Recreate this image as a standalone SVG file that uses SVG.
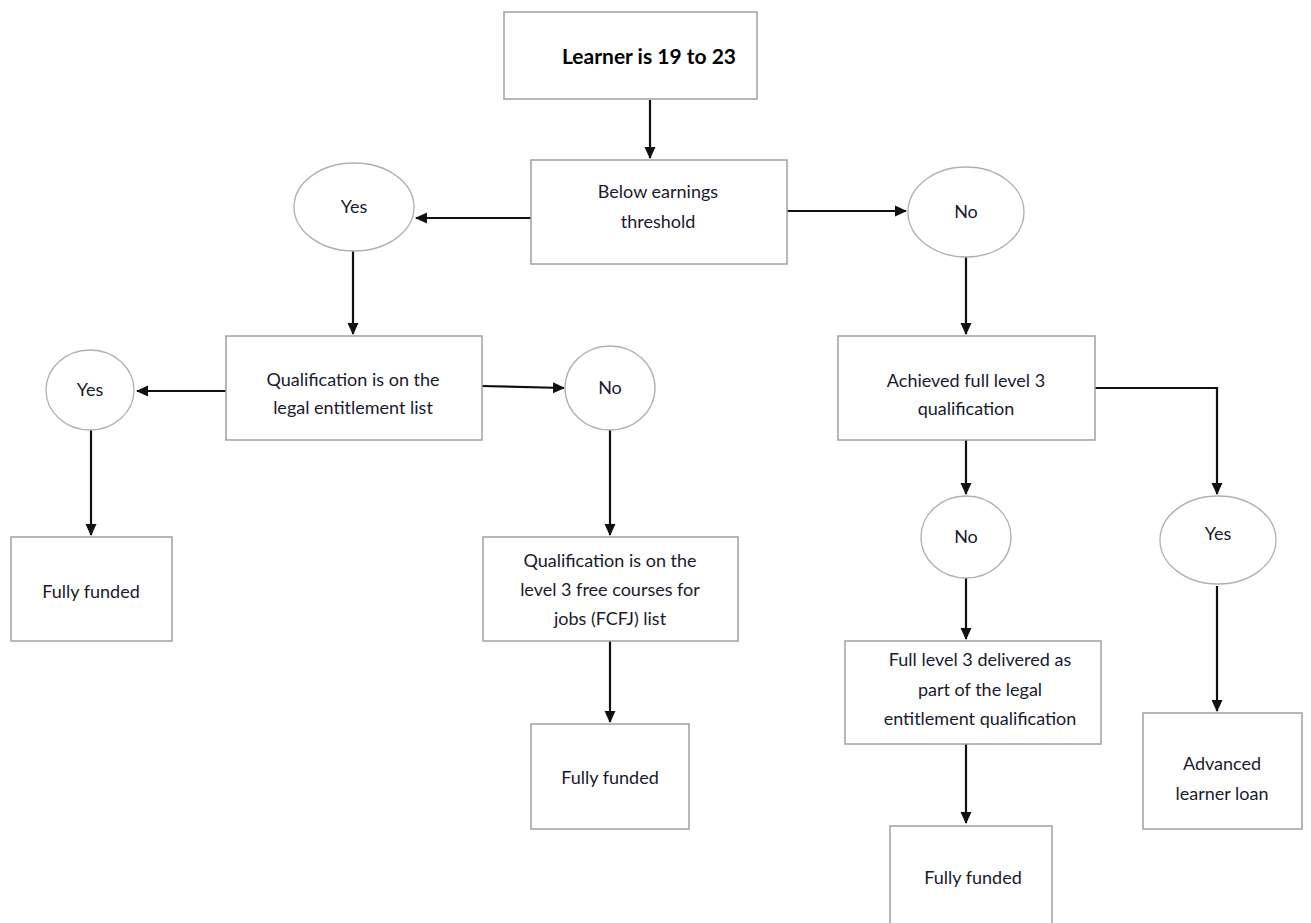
<svg xmlns="http://www.w3.org/2000/svg" width="1311" height="923" viewBox="0 0 1311 923">
<style>
.box{fill:#fff;stroke:#a0a0a0;stroke-width:1.5}
.ell{fill:#fff;stroke:#b0b0b0;stroke-width:1.3}
.t{font-family:Lato,"Open Sans","Liberation Sans",sans-serif;font-size:18px;fill:#1a1a2e;text-anchor:middle}
.b{font-weight:bold;font-size:21px;fill:#000}
.c{fill:none;stroke:#111;stroke-width:2.2;marker-end:url(#ah)}
</style>
<defs>
<marker id="ah" markerWidth="12" markerHeight="12" refX="11" refY="6" orient="auto" markerUnits="userSpaceOnUse">
<path d="M0,0.5 L12,6 L0,11.5 Z" fill="#111"/>
</marker>
</defs>
<rect width="1311" height="923" fill="#fff"/>
<g id="connectors">
<path class="c" d="M650,100 V158"/>
<path class="c" d="M531,218 H416"/>
<path class="c" d="M787,211 H906"/>
<path class="c" d="M353,250 V334"/>
<path class="c" d="M966,257 V334"/>
<path class="c" d="M226,391 H137"/>
<path class="c" d="M482,386 L564,388"/>
<path class="c" d="M91,430 V535"/>
<path class="c" d="M610,430 V535"/>
<path class="c" d="M610,641 V722"/>
<path class="c" d="M1095,388 H1217 V494"/>
<path class="c" d="M966,440 V494"/>
<path class="c" d="M966,578 V639"/>
<path class="c" d="M966,744 V823"/>
<path class="c" d="M1217,586 V711"/>
</g>
<g id="n-learner"><rect class="box" x="504" y="12" width="253" height="87"/><text class="t b" x="649" y="64">Learner is 19 to 23</text></g>
<g id="n-below"><rect class="box" x="531" y="160" width="256" height="104"/><text class="t" x="658" y="198">Below earnings</text><text class="t" x="658" y="228">threshold</text></g>
<g id="n-yes1"><ellipse class="ell" cx="354" cy="207" rx="60" ry="44"/><text class="t" x="354" y="213">Yes</text></g>
<g id="n-no1"><ellipse class="ell" cx="966" cy="212" rx="58" ry="45"/><text class="t" x="966" y="218">No</text></g>
<g id="n-qual"><rect class="box" x="226" y="336" width="256" height="104"/><text class="t" x="353" y="386">Qualification is on the</text><text class="t" x="353" y="414">legal entitlement list</text></g>
<g id="n-yes2"><ellipse class="ell" cx="90" cy="390" rx="44" ry="40"/><text class="t" x="90" y="396">Yes</text></g>
<g id="n-no2"><ellipse class="ell" cx="610" cy="388" rx="45" ry="42"/><text class="t" x="610" y="394">No</text></g>
<g id="n-ff1"><rect class="box" x="11" y="537" width="161" height="104"/><text class="t" x="91" y="598">Fully funded</text></g>
<g id="n-fcfj"><rect class="box" x="483" y="537" width="255" height="104"/><text class="t" x="610" y="567">Qualification is on the</text><text class="t" x="610" y="596">level 3 free courses for</text><text class="t" x="610" y="625">jobs (FCFJ) list</text></g>
<g id="n-ff2"><rect class="box" x="531" y="724" width="158" height="105"/><text class="t" x="610" y="784">Fully funded</text></g>
<g id="n-ach"><rect class="box" x="838" y="336" width="257" height="104"/><text class="t" x="966" y="387">Achieved full level 3</text><text class="t" x="966" y="415">qualification</text></g>
<g id="n-no3"><ellipse class="ell" cx="966" cy="537" rx="45" ry="41"/><text class="t" x="966" y="543">No</text></g>
<g id="n-yes3"><ellipse class="ell" cx="1218" cy="540" rx="58" ry="44"/><text class="t" x="1218" y="540">Yes</text></g>
<g id="n-full3"><rect class="box" x="845" y="641" width="256" height="103"/><text class="t" x="980" y="666">Full level 3 delivered as</text><text class="t" x="980" y="696">part of the legal</text><text class="t" x="980" y="725">entitlement qualification</text></g>
<g id="n-ff3"><rect class="box" x="890" y="826" width="162" height="110"/><text class="t" x="973" y="884">Fully funded</text></g>
<g id="n-all"><rect class="box" x="1143" y="713" width="159" height="116"/><text class="t" x="1222" y="770">Advanced</text><text class="t" x="1222" y="800">learner loan</text></g>
</svg>
